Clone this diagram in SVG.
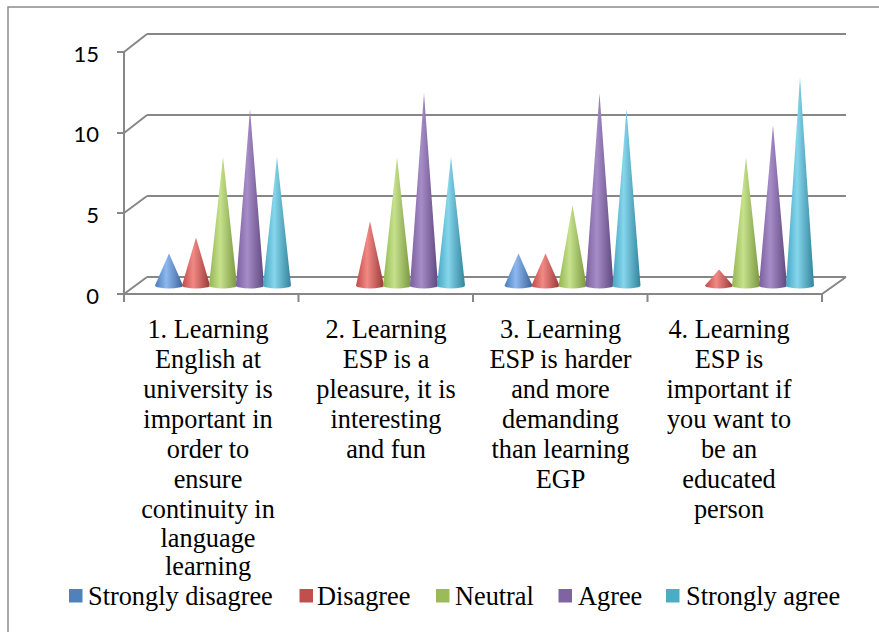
<svg xmlns="http://www.w3.org/2000/svg" width="879" height="632" viewBox="0 0 879 632">
<style>
.grid{stroke:#878787;stroke-width:2;fill:none}
.border{stroke:#8c8c8c;stroke-width:1.5;fill:none}
.ylab{font-family:Lato,"Liberation Sans",Arial,sans-serif;font-size:22px;fill:#000;text-anchor:end}
.clab{font-size:26.3px;fill:#000;text-anchor:middle}
.leg{font-size:26.3px;fill:#000}
</style>
<defs>
<linearGradient id="gBlue" x1="0" y1="0" x2="1" y2="0"><stop offset="0" stop-color="#4A7BB8"/><stop offset="0.4" stop-color="#8DB8F0"/><stop offset="1" stop-color="#3A6399"/></linearGradient>
<linearGradient id="gRed" x1="0" y1="0" x2="1" y2="0"><stop offset="0" stop-color="#BE4A47"/><stop offset="0.4" stop-color="#F28985"/><stop offset="1" stop-color="#973836"/></linearGradient>
<linearGradient id="gGreen" x1="0" y1="0" x2="1" y2="0"><stop offset="0" stop-color="#93B550"/><stop offset="0.4" stop-color="#C6E28C"/><stop offset="1" stop-color="#78953F"/></linearGradient>
<linearGradient id="gPurple" x1="0" y1="0" x2="1" y2="0"><stop offset="0" stop-color="#7A5E9D"/><stop offset="0.4" stop-color="#A68DC8"/><stop offset="1" stop-color="#5F477E"/></linearGradient>
<linearGradient id="gCyan" x1="0" y1="0" x2="1" y2="0"><stop offset="0" stop-color="#45A6C1"/><stop offset="0.4" stop-color="#86D6EC"/><stop offset="1" stop-color="#31849B"/></linearGradient>
</defs>
<rect width="879" height="632" fill="#fff"/>
<path class="border" d="M8,632 V7 H879"/>
<g id="axes">
<path class="grid" d="M147,34 H846 M147,115 H846 M147,196 H846 M147,277 H846"/>
<path class="grid" d="M124,52 L147,34 M124,133 L147,115 M124,213 L147,196 M124,294 L147,277"/>
<path class="grid" d="M124,52 V294 H822 L846,277"/>
<path class="grid" d="M117,52 H124 M117,133 H124 M117,213 H124 M117,294 H124"/>
<path class="grid" d="M124,294 V302 M298.5,294 V302 M473,294 V302 M647.5,294 V302 M822,294 V302"/>
<text class="ylab" x="99" y="61.5">15</text>
<text class="ylab" x="99" y="142">10</text>
<text class="ylab" x="99" y="222.5">5</text>
<text class="ylab" x="99" y="303.5">0</text>
</g>
<g id="cones">
<g id="cat1">
<path fill="url(#gBlue)" d="M155,285.5 L169,253.4 L183,285.5 A14,3 0 0 1 155,285.5 Z"/>
<path fill="url(#gRed)" d="M182,285.5 L196,237.4 L210,285.5 A14,3 0 0 1 182,285.5 Z"/>
<path fill="url(#gGreen)" d="M209,285.5 L223,157.1 L237,285.5 A14,3 0 0 1 209,285.5 Z"/>
<path fill="url(#gPurple)" d="M236,285.5 L250,108.9 L264,285.5 A14,3 0 0 1 236,285.5 Z"/>
<path fill="url(#gCyan)" d="M263,285.5 L277,157.1 L291,285.5 A14,3 0 0 1 263,285.5 Z"/>
</g>
<g id="cat2">
<path fill="url(#gRed)" d="M356,285.5 L370,221.3 L384,285.5 A14,3 0 0 1 356,285.5 Z"/>
<path fill="url(#gGreen)" d="M383,285.5 L397,157.1 L411,285.5 A14,3 0 0 1 383,285.5 Z"/>
<path fill="url(#gPurple)" d="M410,285.5 L424,92.9 L438,285.5 A14,3 0 0 1 410,285.5 Z"/>
<path fill="url(#gCyan)" d="M437,285.5 L451,157.1 L465,285.5 A14,3 0 0 1 437,285.5 Z"/>
</g>
<g id="cat3">
<path fill="url(#gBlue)" d="M504.5,285.5 L518.5,253.4 L532.5,285.5 A14,3 0 0 1 504.5,285.5 Z"/>
<path fill="url(#gRed)" d="M531.5,285.5 L545.5,253.4 L559.5,285.5 A14,3 0 0 1 531.5,285.5 Z"/>
<path fill="url(#gGreen)" d="M558.5,285.5 L572.5,205.3 L586.5,285.5 A14,3 0 0 1 558.5,285.5 Z"/>
<path fill="url(#gPurple)" d="M585.5,285.5 L599.5,92.9 L613.5,285.5 A14,3 0 0 1 585.5,285.5 Z"/>
<path fill="url(#gCyan)" d="M612.5,285.5 L626.5,108.9 L640.5,285.5 A14,3 0 0 1 612.5,285.5 Z"/>
</g>
<g id="cat4">
<path fill="url(#gRed)" d="M705,285.5 L719,269.5 L733,285.5 A14,3 0 0 1 705,285.5 Z"/>
<path fill="url(#gGreen)" d="M732,285.5 L746,157.1 L760,285.5 A14,3 0 0 1 732,285.5 Z"/>
<path fill="url(#gPurple)" d="M759,285.5 L773,125 L787,285.5 A14,3 0 0 1 759,285.5 Z"/>
<path fill="url(#gCyan)" d="M786,285.5 L800,76.9 L814,285.5 A14,3 0 0 1 786,285.5 Z"/>
</g>
</g>
<g id="labels" font-family="Liberation Serif, Times New Roman, DejaVu Serif, serif">
<text class="clab" x="208"><tspan x="208" y="338">1. Learning</tspan><tspan x="208" y="368">English at</tspan><tspan x="208" y="398">university is</tspan><tspan x="208" y="428">important in</tspan><tspan x="208" y="458">order to</tspan><tspan x="208" y="488">ensure</tspan><tspan x="208" y="518">continuity in</tspan><tspan x="208" y="547">language</tspan><tspan x="208" y="575">learning</tspan></text>
<text class="clab" x="386"><tspan x="386" y="338">2. Learning</tspan><tspan x="386" y="368">ESP is a</tspan><tspan x="386" y="398">pleasure, it is</tspan><tspan x="386" y="428">interesting</tspan><tspan x="386" y="458">and fun</tspan></text>
<text class="clab" x="560.5"><tspan x="560.5" y="338">3. Learning</tspan><tspan x="560.5" y="368">ESP is harder</tspan><tspan x="560.5" y="398">and more</tspan><tspan x="560.5" y="428">demanding</tspan><tspan x="560.5" y="458">than learning</tspan><tspan x="560.5" y="488">EGP</tspan></text>
<text class="clab" x="729"><tspan x="729" y="338">4. Learning</tspan><tspan x="729" y="368">ESP is</tspan><tspan x="729" y="398">important if</tspan><tspan x="729" y="428">you want to</tspan><tspan x="729" y="458">be an</tspan><tspan x="729" y="488">educated</tspan><tspan x="729" y="518">person</tspan></text>
</g>
<g id="legend" font-family="Liberation Serif, Times New Roman, DejaVu Serif, serif">
<rect x="69" y="589" width="13.5" height="13.5" fill="#4F81BD"/>
<text class="leg" x="88" y="604.5">Strongly disagree</text>
<rect x="299.5" y="589" width="13.5" height="13.5" fill="#C0504D"/>
<text class="leg" x="317" y="604.5">Disagree</text>
<rect x="436" y="589" width="13.5" height="13.5" fill="#9BBB59"/>
<text class="leg" x="455" y="604.5">Neutral</text>
<rect x="558.5" y="589" width="13.5" height="13.5" fill="#8064A2"/>
<text class="leg" x="578" y="604.5">Agree</text>
<rect x="666" y="589" width="13.5" height="13.5" fill="#4BACC6"/>
<text class="leg" x="686" y="604.5">Strongly agree</text>
</g>
</svg>
